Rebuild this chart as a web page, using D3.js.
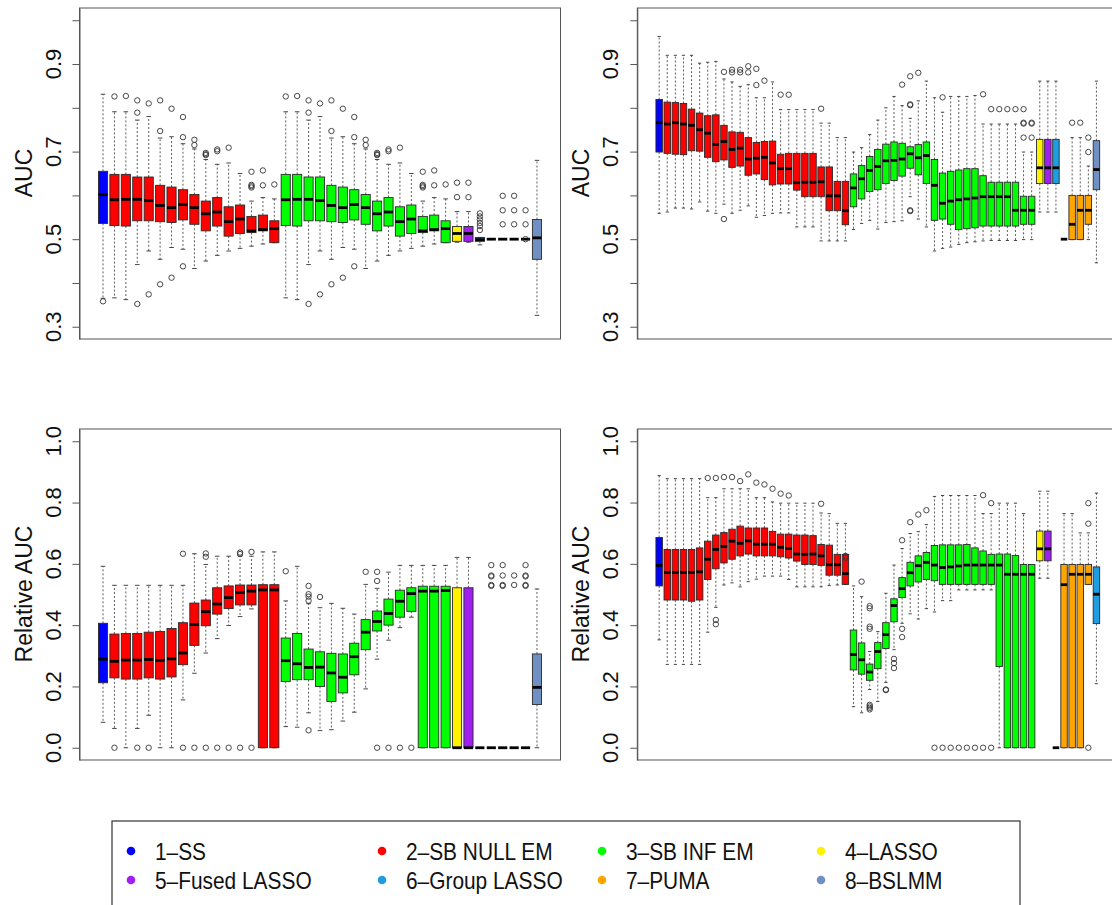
<!DOCTYPE html>
<html>
<head>
<meta charset="utf-8">
<script src="https://cdn.jsdelivr.net/npm/d3@7"></script>
<style>
body { margin: 0; background: #fff; }
text { font-family: "Liberation Sans", Arial, Helvetica, sans-serif; fill: #111; }
</style>
</head>
<body>
<svg id="chart" width="1112" height="905"></svg>
<script>
// Methods (legend order) and their fill colours
var methodLabels = ["1\u2013SS", "2\u2013SB NULL EM", "3\u2013SB INF EM", "4\u2013LASSO",
                    "5\u2013Fused LASSO", "6\u2013Group LASSO", "7\u2013PUMA", "8\u2013BSLMM"];
var methodColors = ["#0000ff", "#ff0000", "#00ff00", "#fff200", "#a020f0", "#1e9ee0", "#ffa500", "#7090c4"];

// which method each box belongs to (index into methodLabels)
var leftMethods = [0, 1,1,1,1,1,1,1,1,1,1,1,1,1,1,1, 2,2,2,2,2,2,2,2,2,2,2,2,2,2,2, 3, 4, 5, 6,6,6,6, 7];
var rightMethods = [0, 1,1,1,1,1,1,1,1,1,1,1,1,1,1,1,1,1,1,1,1,1,1,1,
                    2,2,2,2,2,2,2,2,2,2,2,2,2,2,2,2,2,2,2,2,2,2,2, 3, 4, 5, 6,6,6,6, 7];
var brMethods = [0, 1,1,1,1,1,1,1,1,1,1,1,1,1,1,1,1,1,1,1,1,1,1,1,
                 2,2,2,2,2,2,2,2,2,2,2,2,2,2,2,2,2,2,2,2,2,2,2, 3, 4, 5, 6,6,6,6, 5];

// box stats: [lower whisker, Q1, median, Q3, upper whisker]
// ---- top left: AUC
var tlStats = [
  [0.365,0.536,0.602,0.655,0.831],
  [0.366,0.531,0.590,0.648,0.791],[0.362,0.530,0.591,0.648,0.791],[0.442,0.542,0.591,0.642,0.772],
  [0.473,0.542,0.588,0.642,0.780],[0.454,0.540,0.577,0.623,0.731],[0.481,0.538,0.572,0.619,0.734],
  [0.477,0.544,0.579,0.613,0.718],[0.433,0.534,0.572,0.602,0.706],[0.450,0.519,0.558,0.587,0.682],
  [0.463,0.530,0.562,0.595,0.671],[0.473,0.507,0.540,0.574,0.674],[0.479,0.513,0.546,0.578,0.650],
  [0.484,0.515,0.519,0.552,0.587],[0.489,0.519,0.522,0.555,0.595],[0.492,0.492,0.524,0.542,0.592],
  [0.366,0.531,0.590,0.648,0.791],[0.362,0.530,0.591,0.648,0.791],[0.442,0.542,0.591,0.642,0.772],
  [0.473,0.542,0.588,0.642,0.780],[0.454,0.540,0.577,0.623,0.731],[0.481,0.538,0.572,0.619,0.734],
  [0.477,0.544,0.579,0.613,0.718],[0.433,0.534,0.572,0.602,0.706],[0.450,0.519,0.558,0.587,0.682],
  [0.463,0.530,0.562,0.595,0.671],[0.473,0.507,0.540,0.574,0.674],[0.479,0.513,0.546,0.578,0.650],
  [0.484,0.515,0.519,0.552,0.587],[0.489,0.519,0.522,0.555,0.595],[0.492,0.492,0.524,0.542,0.592],
  [0.493,0.495,0.513,0.529,0.563],[0.493,0.495,0.513,0.529,0.563],[0.487,0.495,0.499,0.504,0.504],
  [0.500,0.500,0.500,0.500,0.500],[0.500,0.500,0.500,0.500,0.500],[0.500,0.500,0.500,0.500,0.500],
  [0.500,0.500,0.500,0.500,0.500],
  [0.326,0.454,0.503,0.545,0.680]
];
var tlOut = [
  [0.358],
  [0.826],[0.827],[0.817,0.789,0.352],[0.810,0.374],[0.817,0.747,0.397],[0.798,0.412],
  [0.779,0.733,0.438],[0.727,0.715],[0.697,0.694,0.692],[0.705,0.701],[0.709],[],
  [0.654,0.624,0.621,0.618],[0.657,0.623],[0.625],
  [0.826],[0.827],[0.817,0.789,0.352],[0.810,0.374],[0.817,0.747,0.397],[0.798,0.412],
  [0.779,0.733,0.438],[0.727,0.715],[0.697,0.694,0.692],[0.705,0.701],[0.709],[],
  [0.654,0.624,0.621,0.618],[0.657,0.623],[0.625],
  [0.629,0.596],[0.629,0.596],[0.559,0.552,0.545,0.537,0.530,0.521],
  [],[0.599,0.566,0.534],[0.599,0.566,0.534],[0.566,0.534,0.500],
  []
];

// ---- top right: AUC
var trStats = [
  [0.559,0.699,0.766,0.819,0.963],
  [0.562,0.696,0.763,0.813,0.920],[0.571,0.694,0.766,0.812,0.920],[0.571,0.693,0.763,0.810,0.920],
  [0.569,0.702,0.760,0.797,0.920],[0.585,0.701,0.750,0.788,0.902],[0.564,0.687,0.742,0.782,0.904],
  [0.559,0.677,0.716,0.784,0.906],[0.580,0.681,0.723,0.760,0.866],[0.559,0.664,0.705,0.745,0.859],
  [0.566,0.667,0.708,0.744,0.849],[0.576,0.646,0.683,0.732,0.853],[0.550,0.649,0.685,0.721,0.823],
  [0.554,0.636,0.687,0.723,0.823],[0.559,0.624,0.674,0.724,0.859],[0.560,0.626,0.661,0.694,0.796],
  [0.560,0.626,0.661,0.696,0.796],[0.528,0.612,0.629,0.696,0.796],[0.528,0.597,0.630,0.696,0.796],
  [0.528,0.597,0.630,0.696,0.796],[0.496,0.597,0.631,0.665,0.765],[0.496,0.565,0.599,0.665,0.765],
  [0.496,0.565,0.599,0.632,0.732],[0.496,0.533,0.565,0.632,0.732],
  [0.522,0.574,0.617,0.649,0.699],[0.536,0.592,0.638,0.668,0.709],[0.543,0.609,0.657,0.689,0.739],
  [0.523,0.613,0.666,0.705,0.772],[0.538,0.627,0.679,0.717,0.800],[0.540,0.634,0.680,0.722,0.826],
  [0.542,0.644,0.683,0.719,0.805],[0.597,0.662,0.695,0.711,0.776],[0.546,0.647,0.686,0.716,0.816],
  [0.528,0.627,0.691,0.722,0.861],[0.473,0.543,0.623,0.682,0.823],[0.479,0.546,0.582,0.651,0.790],
  [0.482,0.534,0.587,0.655,0.826],[0.488,0.522,0.590,0.658,0.826],[0.492,0.524,0.592,0.661,0.826],
  [0.494,0.526,0.594,0.661,0.828],[0.496,0.530,0.597,0.645,0.763],[0.497,0.530,0.597,0.630,0.763],
  [0.497,0.530,0.597,0.630,0.763],[0.497,0.530,0.597,0.630,0.763],[0.497,0.530,0.566,0.630,0.763],
  [0.499,0.534,0.566,0.598,0.699],[0.499,0.534,0.566,0.598,0.699],
  [0.562,0.627,0.663,0.728,0.861],[0.562,0.627,0.663,0.728,0.861],[0.562,0.627,0.663,0.728,0.861],
  [0.500,0.500,0.500,0.500,0.500],[0.499,0.499,0.534,0.600,0.732],[0.499,0.499,0.566,0.600,0.732],
  [0.499,0.534,0.566,0.600,0.667],
  [0.446,0.613,0.659,0.725,0.861]
];
var trOut = [
  [],
  [],[],[],[],[],[],[],[0.882,0.546],[0.887,0.881],[0.887,0.881],[0.895,0.881],[0.889,0.852],
  [0.862],[],[0.830],[0.830],[],[],[],[0.798],[],[],[],
  [],[],[],[],[],[],[0.853],[0.872,0.808,0.806,0.566,0.564],[0.880],[],[],[0.824],
  [],[],[],[],[0.831],[0.797],[0.797],[0.797],[0.797],[0.797,0.766,0.764,0.732],[0.766,0.764,0.732],
  [],[],[],
  [],[0.766],[0.766],[0.732,0.699],
  []
];

// ---- bottom left: relative AUC
var blStats = [
  [0.083,0.212,0.289,0.406,0.592],
  [0.063,0.228,0.282,0.371,0.530],[0.000,0.224,0.286,0.373,0.530],[0.063,0.224,0.286,0.373,0.530],
  [0.106,0.228,0.288,0.377,0.530],[0.000,0.224,0.285,0.379,0.530],[0.000,0.231,0.290,0.389,0.530],
  [0.156,0.271,0.309,0.408,0.530],[0.243,0.334,0.402,0.472,0.633],[0.309,0.398,0.444,0.482,0.598],
  [0.356,0.436,0.469,0.522,0.625],[0.399,0.454,0.490,0.528,0.625],[0.428,0.466,0.506,0.531,0.625],
  [0.453,0.466,0.511,0.531,0.625],[0.000,0.000,0.515,0.532,0.639],[0.000,0.000,0.515,0.532,0.639],
  [0.069,0.216,0.284,0.358,0.479],[0.067,0.222,0.274,0.373,0.592],[0.114,0.222,0.262,0.322,0.470],
  [0.056,0.200,0.263,0.313,0.457],[0.059,0.151,0.244,0.308,0.471],[0.087,0.179,0.230,0.306,0.455],
  [0.116,0.238,0.297,0.341,0.436],[0.192,0.320,0.377,0.418,0.533],[0.289,0.381,0.412,0.446,0.520],
  [0.351,0.400,0.438,0.485,0.573],[0.392,0.426,0.478,0.514,0.595],[0.426,0.445,0.503,0.522,0.595],
  [0.000,0.000,0.511,0.527,0.595],[0.000,0.000,0.511,0.527,0.595],[0.000,0.000,0.513,0.527,0.595],
  [0.000,0.000,0.000,0.522,0.621],[0.000,0.000,0.000,0.522,0.621],[0.000,0.000,0.000,0.000,0.000],
  [0.000,0.000,0.000,0.000,0.000],[0.000,0.000,0.000,0.000,0.000],[0.000,0.000,0.000,0.000,0.000],
  [0.000,0.000,0.000,0.000,0.000],
  [0.000,0.141,0.197,0.306,0.518]
];
var blOut = [
  [],
  [0],[],[0],[0],[],[],[0.633,0],[0],[0.634,0.623,0],[0],[0],[0.637,0.632,0],[0.639,0],[],[],
  [0.576],[],[0.528,0.501,0.493,0.480,0.057],[0.492],[],[],[],[0.574],[0.574,0.544,0],[0],[0],[0],[],[],[],
  [],[],[],
  [0.596,0.562,0.559,0.531,0.528],[0.596,0.562,0.531,0.528],[0.562,0.531],[0.596,0.562,0.559,0.531,0.528],
  []
];

// ---- bottom right: relative AUC
var brStats = [
  [0.352,0.528,0.595,0.686,0.888],
  [0.272,0.482,0.572,0.647,0.878],[0.272,0.482,0.572,0.647,0.878],[0.272,0.482,0.572,0.647,0.878],
  [0.272,0.478,0.572,0.647,0.878],[0.272,0.482,0.574,0.652,0.878],[0.377,0.549,0.615,0.674,0.816],
  [0.458,0.584,0.647,0.694,0.816],[0.531,0.603,0.657,0.702,0.845],[0.538,0.615,0.674,0.713,0.845],
  [0.525,0.626,0.667,0.723,0.845],[0.542,0.632,0.675,0.717,0.845],[0.550,0.626,0.664,0.717,0.816],
  [0.560,0.626,0.664,0.717,0.816],[0.560,0.626,0.664,0.706,0.802],[0.560,0.623,0.654,0.697,0.798],
  [0.549,0.619,0.650,0.697,0.798],[0.525,0.609,0.632,0.694,0.798],[0.525,0.598,0.631,0.694,0.798],
  [0.525,0.598,0.632,0.692,0.798],[0.525,0.595,0.626,0.663,0.766],[0.529,0.563,0.597,0.661,0.764],
  [0.531,0.563,0.597,0.631,0.732],[0.533,0.533,0.568,0.631,0.732],
  [0.134,0.254,0.304,0.384,0.528],[0.114,0.240,0.287,0.342,0.493],[0.190,0.220,0.247,0.273,0.314],
  [0.151,0.258,0.314,0.343,0.379],[0.213,0.324,0.369,0.408,0.504],[0.320,0.411,0.464,0.486,0.596],
  [0.406,0.490,0.519,0.555,0.650],[0.437,0.528,0.571,0.605,0.699],[0.420,0.541,0.594,0.626,0.705],
  [0.454,0.549,0.605,0.637,0.728],[0.443,0.545,0.596,0.660,0.820],[0.480,0.533,0.588,0.662,0.823],
  [0.480,0.533,0.590,0.662,0.823],[0.515,0.533,0.593,0.662,0.823],[0.515,0.533,0.596,0.663,0.823],
  [0.515,0.533,0.596,0.652,0.823],[0.515,0.533,0.596,0.642,0.764],[0.515,0.533,0.596,0.631,0.764],
  [0.000,0.265,0.596,0.632,0.798],[0.000,0.000,0.566,0.632,0.798],[0.000,0.000,0.566,0.627,0.798],
  [0.000,0.000,0.566,0.598,0.764],[0.000,0.000,0.566,0.598,0.598],
  [0.553,0.610,0.649,0.707,0.837],[0.553,0.610,0.649,0.707,0.837],[0.000,0.000,0.000,0.000,0.000],
  [0.000,0.000,0.532,0.598,0.764],[0.000,0.000,0.566,0.598,0.764],[0.000,0.000,0.566,0.598,0.701],
  [0.533,0.533,0.566,0.598,0.701],
  [0.209,0.405,0.501,0.590,0.831]
];
var brOut = [
  [],
  [],[],[],[],[],[0.880],[0.880,0.417,0.403],[0.883],[0.883],[0.870],[0.892],[0.865],[0.859],
  [0.845],[0.829],[0.823],[],[],[],[0.796],[],[],[0.626,0.620],
  [],[0.542],[0.462,0.455,0.395,0.388,0.140,0.135,0.130,0.125],[],[0.190,0.188],[0.290,0.276,0.260],
  [0.677,0.388,0.361],[0.736],[0.761],[0.775],[0],[0],[0],[0],[0],[0],[0.824,0],[0.798,0],
  [],[],[],[],[],
  [],[],[],
  [],[],[],[0.798,0.731,0],
  []
];

var topTicks = [0.3, 0.4, 0.5, 0.6, 0.7, 0.8, 0.9, 1.0];
var topLabels = [0.3, 0.5, 0.7, 0.9];
var bottomTicks = [0.0, 0.2, 0.4, 0.6, 0.8, 1.0];

var svg = d3.select("#chart");

// draws one boxplot panel, R style
function drawPanel(cfg) {
    var n = cfg.stats.length;
    var ext = 0.04 * n;
    var x = d3.scaleLinear().domain([0.5 - ext, n + 0.5 + ext]).range([cfg.left, cfg.left + 481]);
    var yr = cfg.ylim[1] - cfg.ylim[0];
    var y = d3.scaleLinear()
        .domain([cfg.ylim[0] - 0.04 * yr, cfg.ylim[1] + 0.04 * yr])
        .range([cfg.top + 331, cfg.top]);
    var bw = 0.8 * (x(2) - x(1));  // boxwex 0.8
    var sw = bw * 0.5;             // staple width

    var g = svg.append("g");
    var boxes = g.selectAll(".bx").data(cfg.stats).enter().append("g").attr("class", "bx");

    // whiskers (dashed) + staples
    boxes.append("line")
        .attr("x1", function(d, i) { return x(i + 1); }).attr("x2", function(d, i) { return x(i + 1); })
        .attr("y1", function(d) { return y(d[3]); }).attr("y2", function(d) { return y(d[4]); })
        .attr("stroke", "#333").attr("stroke-width", 0.8).attr("stroke-dasharray", "2,2");
    boxes.append("line")
        .attr("x1", function(d, i) { return x(i + 1); }).attr("x2", function(d, i) { return x(i + 1); })
        .attr("y1", function(d) { return y(d[1]); }).attr("y2", function(d) { return y(d[0]); })
        .attr("stroke", "#333").attr("stroke-width", 0.8).attr("stroke-dasharray", "2,2");
    [0, 4].forEach(function(k) {
        boxes.append("line")
            .attr("x1", function(d, i) { return x(i + 1) - sw / 2; })
            .attr("x2", function(d, i) { return x(i + 1) + sw / 2; })
            .attr("y1", function(d) { return y(d[k]); }).attr("y2", function(d) { return y(d[k]); })
            .attr("stroke", "#333").attr("stroke-width", 0.9);
    });

    // box body
    boxes.append("rect")
        .attr("x", function(d, i) { return x(i + 1) - bw / 2; })
        .attr("width", bw)
        .attr("y", function(d) { return y(d[3]); })
        .attr("height", function(d) { return y(d[1]) - y(d[3]); })
        .attr("fill", function(d, i) { return methodColors[cfg.methods[i]]; })
        .attr("stroke", "#2a2a2a").attr("stroke-width", 0.9);

    // median
    boxes.append("line")
        .attr("x1", function(d, i) { return x(i + 1) - bw / 2; })
        .attr("x2", function(d, i) { return x(i + 1) + bw / 2; })
        .attr("y1", function(d) { return y(d[2]); }).attr("y2", function(d) { return y(d[2]); })
        .attr("stroke", "#000").attr("stroke-width", 2.8);

    // outliers
    var pts = [];
    cfg.out.forEach(function(arr, i) { arr.forEach(function(v) { pts.push({i: i, v: v}); }); });
    g.selectAll(".out").data(pts).enter().append("circle")
        .attr("cx", function(d) { return x(d.i + 1); })
        .attr("cy", function(d) { return y(d.v); })
        .attr("r", 2.7).attr("fill", "none").attr("stroke", "#333").attr("stroke-width", 0.9);

    // frame
    g.append("rect").attr("x", cfg.left).attr("y", cfg.top).attr("width", 481).attr("height", 331)
        .attr("fill", "none").attr("stroke", "#555").attr("stroke-width", 1);

    // y axis
    var ax = g.append("g").attr("transform", "translate(" + cfg.left + ",0)")
        .call(d3.axisLeft(y).tickValues(cfg.ticks).tickSize(7).tickSizeOuter(0).tickFormat(""));
    ax.select(".domain").attr("stroke", "#555");
    ax.selectAll(".tick line").attr("stroke", "#555");

    g.selectAll(".ylab").data(cfg.labels).enter().append("text")
        .attr("transform", function(d) { return "translate(" + (cfg.left - 19) + "," + y(d) + ") rotate(-90)"; })
        .attr("text-anchor", "middle")
        .style("font-size", "22px")
        .text(function(d) { return d3.format(".1f")(d); });

    g.append("text")
        .attr("transform", "translate(" + (cfg.left - 48) + "," + (cfg.top + 165) + ") rotate(-90)")
        .attr("text-anchor", "middle")
        .style("font-size", "23px")
        .text(cfg.title);
}

drawPanel({left: 79.5, top: 8, ylim: [0.3, 1.0], ticks: topTicks, labels: topLabels,
           title: "AUC", stats: tlStats, out: tlOut, methods: leftMethods});
drawPanel({left: 637.3, top: 8, ylim: [0.3, 1.0], ticks: topTicks, labels: topLabels,
           title: "AUC", stats: trStats, out: trOut, methods: rightMethods});
drawPanel({left: 79.5, top: 429, ylim: [0, 1], ticks: bottomTicks, labels: bottomTicks,
           title: "Relative AUC", stats: blStats, out: blOut, methods: leftMethods});
drawPanel({left: 637.3, top: 429, ylim: [0, 1], ticks: bottomTicks, labels: bottomTicks,
           title: "Relative AUC", stats: brStats, out: brOut, methods: brMethods});

// legend
var legend = svg.append("g");
legend.append("rect").attr("x", 112).attr("y", 821).attr("width", 908).attr("height", 120)
    .attr("fill", "none").attr("stroke", "#333").attr("stroke-width", 1.2);
var legX = [131, 382, 602, 821];
var legY = [851, 880];
var items = legend.selectAll(".li").data(methodLabels).enter().append("g").attr("class", "li")
    .attr("transform", function(d, i) { return "translate(" + legX[i % 4] + "," + legY[Math.floor(i / 4)] + ")"; });
items.append("circle").attr("r", 4.3).attr("fill", function(d, i) { return methodColors[i]; });
// the legend font is a narrow sans: slightly condensed horizontally
items.append("text").attr("transform", "scale(0.87,1)").attr("x", 24 / 0.87).attr("dy", "0.36em")
    .style("font-size", "24px").text(function(d) { return d; });
</script>
</body>
</html>
